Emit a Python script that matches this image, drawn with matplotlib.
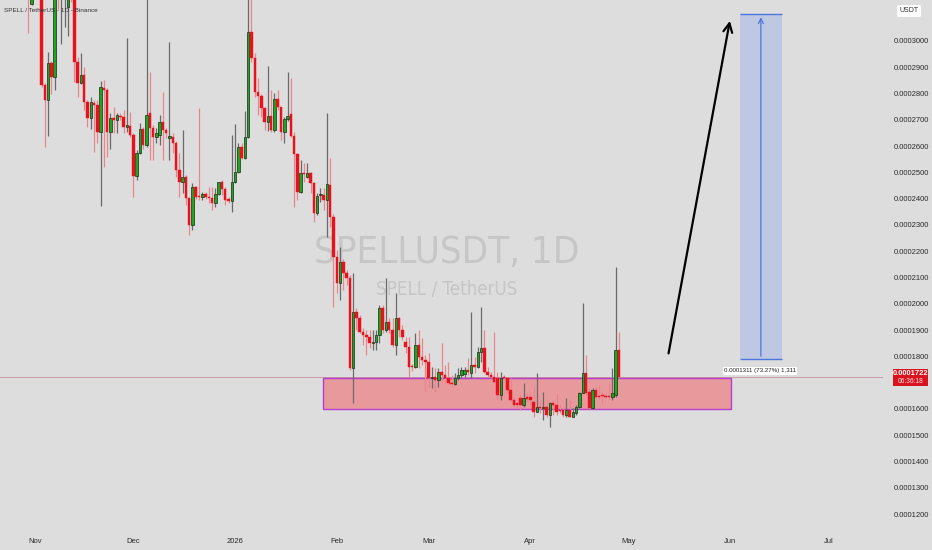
import matplotlib
matplotlib.use("Agg")
import matplotlib.pyplot as plt
import numpy as np
from matplotlib import font_manager as fm
from matplotlib.patches import Rectangle

# ---------------- data (prices in units of 1e-7 USDT) ----------------
start_day = -2  # first candle = 30 Oct 2025 (day 0 = 1 Nov 2025)
opens_e7 = [3300, 3141, 3250, 3300, 3200, 2833, 2776, 2915, 2864, 3180, 3170, 3250, 3131, 3200, 3190,
            2921, 2839, 2871, 2769, 2706, 2765, 2758, 2655, 2820, 2814, 2655, 2706, 2700, 2715, 2710,
            2674, 2677, 2642, 2488, 2575, 2665, 2604, 2725, 2668, 2636, 2642, 2693, 2661, 2630, 2636,
            2611, 2509, 2465, 2484, 2402, 2300, 2446, 2408, 2405, 2418, 2408, 2402, 2383, 2418, 2465,
            2436, 2400, 2393, 2465, 2503, 2598, 2554, 2636, 3036, 2934, 2807, 2792, 2744, 2693, 2715,
            2662, 2779, 2748, 2655, 2702, 2722, 2640, 2570, 2427, 2497, 2484, 2497, 2459, 2345, 2414,
            2414, 2395, 2452, 2332, 2179, 2078, 2160, 2116, 2097, 1755, 1970, 1945, 1894, 1881, 1875,
            1850, 1856, 1881, 1983, 1900, 1932, 1900, 1843, 1945, 1900, 1856, 1837, 1761, 1761, 1843,
            1799, 1786, 1780, 1716, 1723, 1710, 1742, 1729, 1716, 1700, 1695, 1716, 1729, 1733, 1748,
            1735, 1767, 1761, 1818, 1831, 1742, 1729, 1723, 1716, 1653, 1720, 1716, 1672, 1634, 1621,
            1640, 1615, 1644, 1647, 1628, 1590, 1609, 1602, 1609, 1577, 1624, 1615, 1596, 1596, 1577,
            1596, 1571, 1583, 1609, 1662, 1736, 1666, 1602, 1672, 1650, 1650, 1650, 1647, 1644, 1653,
            1824]
highs_e7 = [3350, 3300, 3400, 3350, 3250, 2840, 2957, 2925, 3250, 3300, 3300, 3320, 3250, 3300, 3200,
            2940, 2953, 2902, 2775, 2788, 2775, 2775, 2849, 2852, 2820, 2725, 2750, 2725, 2725, 2738,
            3010, 2731, 2650, 2585, 2687, 2674, 3170, 2883, 2680, 2668, 2719, 2807, 2670, 2998, 2650,
            2620, 2573, 2662, 2490, 2408, 2459, 2450, 2744, 2425, 2425, 2446, 2446, 2440, 2465, 2471,
            2446, 2405, 2642, 2684, 2611, 2611, 2735, 3200, 3200, 2953, 2858, 2800, 2750, 2905, 2814,
            2801, 2814, 2750, 2710, 2883, 2858, 2655, 2575, 2547, 2535, 2535, 2503, 2465, 2420, 2440,
            2440, 2725, 2554, 2340, 2205, 2217, 2170, 2129, 2110, 2116, 1983, 1958, 1907, 1900, 1900,
            1900, 1900, 1996, 1996, 2097, 1945, 1945, 2040, 1951, 1920, 1875, 1875, 1770, 1888, 1900,
            1869, 1805, 1812, 1761, 1754, 1754, 1850, 1767, 1780, 1729, 1735, 1754, 1761, 1761, 1792,
            1970, 1799, 1837, 1989, 1900, 1761, 1742, 1894, 1742, 1742, 1730, 1723, 1716, 1647, 1628,
            1653, 1698, 1659, 1666, 1685, 1736, 1634, 1666, 1634, 1628, 1634, 1659, 1620, 1609, 1640,
            1634, 1602, 1615, 1666, 2002, 1805, 1678, 1678, 1685, 1691, 1666, 1660, 1698, 1754, 2141,
            1894]
lows_e7 = [3029, 3137, 3180, 3170, 2825, 2596, 2640, 2800, 2814, 3120, 2987, 3055, 3020, 3150, 2845,
           2788, 2835, 2738, 2674, 2664, 2577, 2611, 2374, 2522, 2560, 2588, 2649, 2649, 2700, 2649,
           2655, 2636, 2408, 2471, 2570, 2590, 2598, 2547, 2547, 2611, 2604, 2547, 2630, 2547, 2573,
           2484, 2408, 2421, 2376, 2262, 2281, 2400, 2395, 2395, 2400, 2383, 2357, 2370, 2414, 2414,
           2376, 2385, 2351, 2460, 2497, 2550, 2550, 2630, 2920, 2788, 2719, 2712, 2662, 2659, 2655,
           2655, 2738, 2623, 2611, 2695, 2636, 2370, 2395, 2420, 2465, 2478, 2421, 2313, 2338, 2389,
           2357, 2256, 2294, 1989, 2040, 2015, 2053, 2072, 1748, 1621, 1900, 1888, 1843, 1805, 1830,
           1824, 1824, 1850, 1888, 1894, 1888, 1837, 1805, 1875, 1862, 1812, 1723, 1745, 1755, 1755,
           1767, 1666, 1685, 1678, 1666, 1685, 1704, 1697, 1691, 1685, 1691, 1710, 1716, 1723, 1729,
           1716, 1735, 1754, 1780, 1735, 1723, 1716, 1697, 1634, 1634, 1710, 1659, 1628, 1609, 1605,
           1596, 1609, 1628, 1615, 1571, 1590, 1583, 1558, 1571, 1533, 1577, 1577, 1583, 1571, 1571,
           1568, 1568, 1577, 1602, 1659, 1653, 1598, 1598, 1640, 1634, 1619, 1640, 1634, 1634, 1647,
           1716]
closes_e7 = [3170, 3250, 3300, 3200, 2833, 2776, 2915, 2864, 3180, 3170, 3250, 3280, 3200, 3190, 2921,
             2839, 2871, 2769, 2706, 2769, 2758, 2655, 2824, 2814, 2655, 2706, 2700, 2719, 2710, 2674,
             2681, 2642, 2488, 2575, 2665, 2604, 2719, 2668, 2636, 2649, 2693, 2661, 2649, 2639, 2611,
             2509, 2465, 2484, 2402, 2300, 2446, 2408, 2405, 2418, 2408, 2402, 2383, 2418, 2462, 2436,
             2395, 2393, 2465, 2503, 2598, 2554, 2636, 3036, 2934, 2807, 2792, 2744, 2693, 2715, 2662,
             2779, 2748, 2655, 2702, 2715, 2640, 2570, 2427, 2497, 2493, 2497, 2459, 2345, 2410, 2418,
             2395, 2455, 2332, 2179, 2078, 2160, 2116, 2097, 1755, 1970, 1945, 1894, 1881, 1875, 1850,
             1856, 1881, 1983, 1900, 1932, 1900, 1843, 1945, 1900, 1875, 1837, 1761, 1758, 1843, 1799,
             1786, 1780, 1716, 1720, 1710, 1742, 1729, 1716, 1700, 1695, 1716, 1729, 1748, 1748, 1742,
             1767, 1758, 1818, 1831, 1742, 1729, 1723, 1704, 1653, 1716, 1716, 1672, 1634, 1615, 1615,
             1615, 1640, 1637, 1634, 1590, 1609, 1602, 1609, 1577, 1624, 1615, 1590, 1593, 1577, 1596,
             1571, 1590, 1609, 1662, 1736, 1660, 1602, 1672, 1647, 1647, 1649, 1644, 1644, 1659, 1824,
             1722]

month_labels = ["Nov", "Dec", "2026", "Feb", "Mar", "Apr", "May", "Jun", "Jul"]
month_days = [0, 30, 61, 92, 120, 151, 181, 212, 242]
price_ticks_e7 = [1200, 1300, 1400, 1500, 1600, 1800, 1900, 2000, 2100, 2200, 2300,
                  2400, 2500, 2600, 2700, 2800, 2900, 3000]
last_price = 0.0001722
zone_low, zone_high = 0.0001600, 0.0001718
zone_start, zone_end = 87.8, 212.2
target_low, target_high = 0.0001790, 0.0003101
target_start, target_end = 214.9, 227.7
arrow_from = (193.0, 0.0001801)
arrow_to = (212.0, 0.0003087)

E7 = 1e-7
O = np.array(opens_e7) * E7
H = np.array(highs_e7) * E7
L = np.array(lows_e7) * E7
C = np.array(closes_e7) * E7
days = np.arange(start_day, start_day + len(O))

# ---------------- fonts ----------------
cond_path = None
for f in fm.fontManager.ttflist:
    nm = f.name
    if (("Narrow" in nm or "Condensed" in nm or f.stretch in ("condensed", "semi-condensed"))
            and f.style == "normal" and str(f.weight) in ("400", "normal", "regular", "book")):
        cond_path = f.fname
        break
if cond_path:
    wm_font = fm.FontProperties(fname=cond_path)
else:
    wm_font = fm.FontProperties(family="Liberation Sans")
small_font = fm.FontProperties(family="Liberation Sans")

# ---------------- figure ----------------
W, Hh = 932, 550
BG = "#dddddd"
fig = plt.figure(figsize=(W / 100, Hh / 100), dpi=100, facecolor=BG)
ax_right_px, ax_bottom_px = 883, 528
ax = fig.add_axes([0, 1 - ax_bottom_px / Hh, ax_right_px / W, ax_bottom_px / Hh])
ax.set_facecolor(BG)
for s in ax.spines.values():
    s.set_visible(False)

px_per_day = 3.28
ax.set_xlim(-35 / px_per_day, (ax_right_px - 35) / px_per_day)
ax.set_ylim(0.0001147, 0.0003156)


def fx(px):
    return px / W


def fy(py):
    return 1 - py / Hh


# watermark
wm1 = ax.text(447 / ax_right_px, 1 - 253 / ax_bottom_px, "SPELLUSDT, 1D", transform=ax.transAxes,
              fontproperties=wm_font, fontsize=30, color="#c6c6c6", ha="center", va="center", zorder=0)
wm2 = ax.text(447 / ax_right_px, 1 - 290 / ax_bottom_px, "SPELL / TetherUS", transform=ax.transAxes,
              fontproperties=wm_font, fontsize=14, color="#c6c6c6", ha="center", va="center", zorder=0)

# price line
ax.axhline(last_price, color="#c98a8e", lw=0.6, alpha=0.9, zorder=1)

# support zone
ax.add_patch(Rectangle((zone_start, zone_low), zone_end - zone_start, zone_high - zone_low,
                       facecolor="#e8999c", edgecolor="#b23fcf", lw=1.0, zorder=1.5))

# target box
ax.add_patch(Rectangle((target_start, target_low), target_end - target_start, target_high - target_low,
                       facecolor="#bfc8e3", edgecolor="none", zorder=1.5))
ax.hlines([target_low, target_high], target_start, target_end, color="#4d76e0", lw=1.0, zorder=2)
mid = (target_start + target_end) / 2
ax.annotate("", xy=(mid, target_high), xytext=(mid, target_low),
            arrowprops=dict(arrowstyle="->", color="#4d76e0", lw=0.9, mutation_scale=9), zorder=2)

# black arrow
ax.annotate("", xy=arrow_to, xytext=arrow_from,
            arrowprops=dict(arrowstyle="->", color="black", lw=1.6, mutation_scale=16), zorder=3)

# candles
up = C >= O
green, red = "#1ea51e", "#e8121c"
gwick, rwick = "#6a6a6a", "#e8868c"
ax.vlines(days[up], L[up], H[up], color=gwick, lw=0.9, zorder=3)
ax.vlines(days[~up], L[~up], H[~up], color=rwick, lw=0.9, zorder=3)
body_lo = np.minimum(O, C)
body_h = np.maximum(np.abs(C - O), 0.0000004)
ax.bar(days[up], body_h[up], bottom=body_lo[up], width=0.76, color=green,
       edgecolor="#1c2a1c", linewidth=0.5, zorder=4)
ax.bar(days[~up], body_h[~up], bottom=body_lo[~up], width=0.76, color=red,
       edgecolor=red, linewidth=0.3, zorder=4)

# axes ticks
ax.yaxis.tick_right()
ax.set_yticks(np.array(price_ticks_e7) * E7)
ax.set_yticklabels([f"{v * E7:.7f}" for v in price_ticks_e7])
ax.tick_params(axis="y", length=0, pad=7.5, labelsize=5.4, labelcolor="#2a2a2a")
ax.set_xticks(month_days)
ax.set_xticklabels(month_labels)
ax.tick_params(axis="x", length=0, pad=7.5, labelsize=5.4, labelcolor="#2a2a2a")
for t in ax.get_xticklabels() + ax.get_yticklabels():
    t.set_fontproperties(small_font)
    t.set_fontsize(5.5)

# title
title = fig.text(fx(4), fy(10), "SPELL / TetherUS - 1D - Binance", fontproperties=small_font,
                 fontsize=6, color="#333333", ha="left", va="center")

# USDT box
fig.text(fx(909), fy(11), "USDT", fontproperties=small_font, fontsize=5.0, color="#333333",
         ha="center", va="center",
         bbox=dict(boxstyle="round,pad=0.35,rounding_size=0.2", facecolor="white", edgecolor="none"))

# current price label
fig.patches.append(Rectangle((fx(893), fy(386)), fx(928) - fx(893), fy(369) - fy(386),
                             transform=fig.transFigure, facecolor="#d9141e", edgecolor="none"))
fig.text(fx(910.5), fy(373.5), "0.0001722", fontproperties=small_font, fontsize=5.4,
         color="white", ha="center", va="center", fontweight="bold")
fig.text(fx(910.5), fy(381.5), "06:36:18", fontproperties=small_font, fontsize=4.8,
         color="#ffe0e0", ha="center", va="center")

# range label
lab = ax.text(mid - 0.4, 0.0001745, "0.0001311 (73.27%) 1,311", fontproperties=small_font,
              fontsize=4.6, color="#222222", ha="center", va="center", zorder=6)

# fit widths
fig.canvas.draw()
r = fig.canvas.get_renderer()
for t, wt in ((wm1, 265), (wm2, 142), (title, 95), (lab, 72)):
    w = t.get_window_extent(r).width
    t.set_fontsize(t.get_fontsize() * wt / w)
lab.set_bbox(dict(boxstyle="square,pad=0.3", facecolor="white", edgecolor="#d0d0d0", lw=0.4))

fig.savefig("out.png", dpi=100, facecolor=BG)
